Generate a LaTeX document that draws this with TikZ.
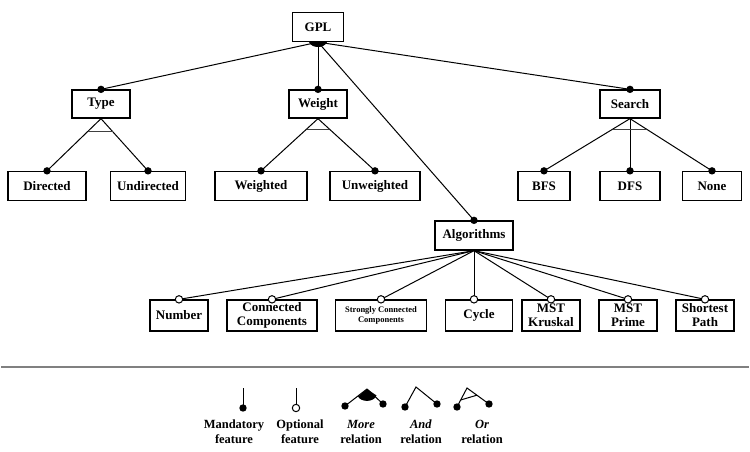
\documentclass[tikz,border=0pt]{standalone}
\usepackage{fontspec}
\setmainfont{Liberation Serif}
\usetikzlibrary{calc}

\tikzset{
	feature/.style={draw, line width=1.3pt, minimum height=29pt, inner sep=1pt, align=center,
		font=\bfseries\fontsize{13}{14}\selectfont},
	link/.style={line width=1pt},
	bar/.style={line width=0.8pt, black!75},
	legend/.style={align=center, inner sep=0pt, font=\bfseries\fontsize{12.5}{15}\selectfont}
}

\begin{document}
\begin{tikzpicture}[x=1pt, y=-1pt]
	\useasboundingbox (0,0) rectangle (750,452);
	
	% root and first level
	\node[feature, minimum width=51] (gpl) at (318,27) {GPL};
	\node[feature, minimum width=58, minimum height=28] (type) at (101,104) {Type};
	\node[feature, minimum width=58, minimum height=28] (weight) at (318,104) {Weight};
	\node[feature, minimum width=60, minimum height=28] (search) at (630,104) {Search};
	\node[feature, minimum width=78] (algo) at (474,235.5) {Algorithms};
	
	% second level
	\node[feature, minimum width=78] (directed) at (47,186) {Directed};
	\node[feature, minimum width=75] (undirected) at (148,186) {Undirected};
	\node[feature, minimum width=92] (weighted) at (261,186) {Weighted};
	\node[feature, minimum width=90] (unweighted) at (375,186) {Unweighted};
	\node[feature, minimum width=52] (bfs) at (544,186) {BFS};
	\node[feature, minimum width=60] (dfs) at (630,186) {DFS};
	\node[feature, minimum width=59] (none) at (712,186) {None};
	
	% algorithms
	\node[feature, minimum width=58, minimum height=31] (number) at (179,315.5) {Number};
	\node[feature, minimum width=90, minimum height=31, inner sep=0pt] (cc) at (272,315.5) {Connected\\Components};
	\node[feature, minimum width=91, minimum height=31, font=\bfseries\fontsize{8.5}{10}\selectfont] (scc) at (381,315.5) {Strongly Connected\\Components};
	\node[feature, minimum width=67, minimum height=31] (cycle) at (479,315.5) {Cycle};
	\node[feature, minimum width=58, minimum height=31, inner sep=0pt] (kruskal) at (551,315.5) {MST\\Kruskal};
	\node[feature, minimum width=58, minimum height=31, inner sep=0pt] (prime) at (628,315.5) {MST\\Prime};
	\node[feature, minimum width=58, minimum height=31, inner sep=0pt] (spath) at (705,315.5) {Shortest\\Path};
	\coordinate (cyctop) at (algo.south |- cycle.north);
	
	% connectors
	\foreach \n in {type,weight,search,algo}
		\draw[link] (gpl.south) -- (\n.north);
	\fill ($(gpl.south)+(-9,0)$) .. controls +(3,6.5) and +(-3,6.5) .. ($(gpl.south)+(9,0)$) -- cycle;
	\foreach \p/\n in {type/directed,type/undirected,weight/weighted,weight/unweighted,search/bfs,search/dfs,search/none}
		\draw[link] (\p.south) -- (\n.north);
	\foreach \n in {number,cc,scc,kruskal,prime,spath}
		\draw[link] (algo.south) -- (\n.north);
	\draw[link] (algo.south) -- (cyctop);
	
	% or-groups
	\path (type.south) -- (directed.north) coordinate[pos=0.25] (typeL);
	\path (type.south) -- (undirected.north) coordinate[pos=0.25] (typeR);
	\path (weight.south) -- (weighted.north) coordinate[pos=0.2] (weightL);
	\path (weight.south) -- (unweighted.north) coordinate[pos=0.2] (weightR);
	\path (search.south) -- (bfs.north) coordinate[pos=0.2] (searchL);
	\path (search.south) -- (none.north) coordinate[pos=0.2] (searchR);
	\draw[bar] (typeL) -- (typeR);
	\draw[bar] (weightL) -- (weightR);
	\draw[bar] (searchL) -- (searchR);
	
	% mandatory and optional ends
	\foreach \n in {type,weight,search,algo,directed,undirected,weighted,unweighted,bfs,dfs,none}
		\fill (\n.north) circle (3.7pt);
	\foreach \n in {number.north,cc.north,scc.north,cyctop,kruskal.north,prime.north,spath.north}
		\draw[link, fill=white] (\n) circle (3.7pt);
	
	% legend
	\draw[black!50, line width=2.4pt] (1,367) -- (749,367);
	
	\coordinate (mtop) at (243,388); \coordinate (mend) at (243,408);
	\draw[link] (mtop) -- (mend);
	\fill (mend) circle (3.7pt);
	
	\coordinate (otop) at (296,388); \coordinate (oend) at (296,408);
	\draw[link] (otop) -- (oend);
	\draw[link, fill=white] (oend) circle (3.7pt);
	
	\coordinate (moreA) at (367,389); \coordinate (moreL) at (345,406); \coordinate (moreR) at (383,404);
	\draw[link] (moreL) -- (moreA) -- (moreR);
	\fill (358,396.5) -- (moreA) -- (376.5,395.5) .. controls (374,402.5) and (361,402.5) .. cycle;
	\fill (moreL) circle (3.7pt) (moreR) circle (3.7pt);
	
	\coordinate (andA) at (416,387); \coordinate (andL) at (405,407); \coordinate (andR) at (437,404);
	\draw[link] (andL) -- (andA) -- (andR);
	\fill (andL) circle (3.7pt) (andR) circle (3.7pt);
	
	\coordinate (orA) at (467,388); \coordinate (orL) at (457,407); \coordinate (orR) at (489,404);
	\draw[link] (orL) -- (orA) -- (orR);
	\draw[link] ($(orA)!0.63!(orL)$) -- ($(orA)!0.45!(orR)$);
	\fill (orL) circle (3.7pt) (orR) circle (3.7pt);
	
	\node[legend] (mandtxt) at (234,432) {Mandatory\\feature};
	\node[legend] (opttxt) at (300,432) {Optional\\feature};
	\node[legend] (moretxt) at (361,432) {\textit{More}\\relation};
	\node[legend] (andtxt) at (421,432) {\textit{And}\\relation};
	\node[legend] (ortxt) at (482,432) {\textit{Or}\\relation};
\end{tikzpicture}
\end{document}
